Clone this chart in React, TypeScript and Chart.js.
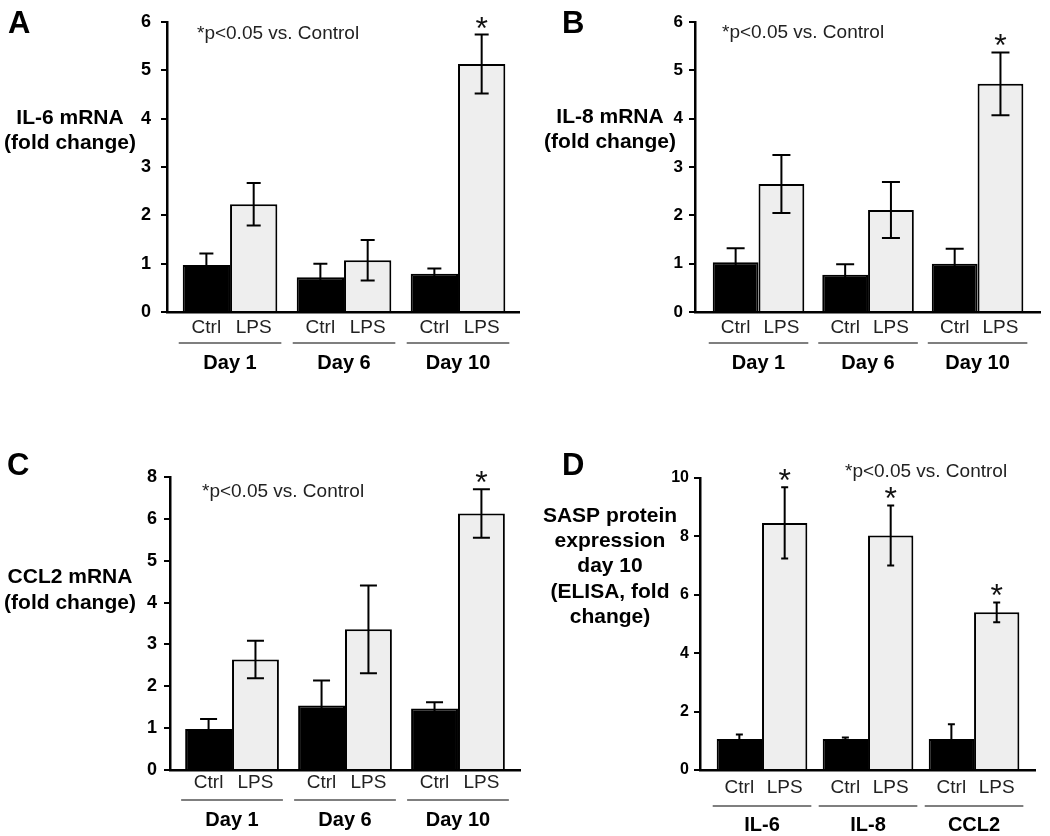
import React, { useEffect, useRef } from "react";
import { Chart, registerables } from "chart.js";

Chart.register(...registerables);

const FONT = "'Liberation Sans', Arial, Helvetica, sans-serif";

// ---------- data ----------
const dayGroups = ["Day 1", "Day 6", "Day 10"];
const cytokineGroups = ["IL-6", "IL-8", "CCL2"];
const barLabels = ["Ctrl", "LPS"];
const noteText = "*p<0.05 vs. Control";

// Panel A: IL-6 mRNA
const il6Ctrl = [0.97, 0.72, 0.79];
const il6CtrlErr = [0.24, 0.28, 0.11];
const il6Lps = [2.23, 1.07, 5.13];
const il6LpsErr = [0.44, 0.42, 0.61];
const il6Sig = [false, false, true];
const il6Ticks = ["0", "1", "2", "3", "4", "5", "6"];

// Panel B: IL-8 mRNA
const il8Ctrl = [1.03, 0.77, 1.0];
const il8CtrlErr = [0.29, 0.22, 0.31];
const il8Lps = [2.65, 2.11, 4.72];
const il8LpsErr = [0.6, 0.58, 0.65];
const il8Sig = [false, false, true];
const il8Ticks = ["0", "1", "2", "3", "4", "5", "6"];

// Panel C: CCL2 mRNA (top tick is printed "8" in the original)
const ccl2Ctrl = [0.98, 1.54, 1.47];
const ccl2CtrlErr = [0.24, 0.6, 0.15];
const ccl2Lps = [2.64, 3.36, 6.13];
const ccl2LpsErr = [0.45, 1.05, 0.58];
const ccl2Sig = [false, false, true];
const ccl2Ticks = ["0", "1", "2", "3", "4", "5", "6", "8"];

// Panel D: SASP protein (ELISA)
const saspCtrl = [1.06, 1.06, 1.06];
const saspCtrlErr = [0.16, 0.05, 0.51];
const saspLps = [8.46, 8.03, 5.4];
const saspLpsErr = [1.22, 1.03, 0.34];
const saspSig = [true, true, true];
const saspTicks = ["0", "2", "4", "6", "8", "10"];

// ---------- layout ----------
const YW = 40;
const XH = 10;

type PanelCfg = {
  letter: string;
  left: number; top: number; w: number; h: number;
  axisX: number; topY: number; bottomY: number; rightX: number;
  xMin: number; xMax: number; catPct: number; capW: number; tickPad: number; tickFont: number;
  yMax: number; yStep: number; tickLabels: string[];
  groups: string[];
  ctrl: number[]; ctrlErr: number[]; lps: number[]; lpsErr: number[]; sig: boolean[];
  title: string[]; titleX: number; titleY: number; titleLH: number;
  noteX: number; noteY: number; letterX: number; letterY: number;
  lblDy: number; lineDy: number; grpDy: number;
};

const panels: PanelCfg[] = [
  {
    letter: "A", left: 0, top: 0, w: 530, h: 420,
    axisX: 167, topY: 22, bottomY: 312, rightX: 519,
    xMin: -0.553, xMax: 2.535, catPct: 0.83, capW: 14, tickPad: 10, tickFont: 18,
    yMax: 6, yStep: 1, tickLabels: il6Ticks, groups: dayGroups,
    ctrl: il6Ctrl, ctrlErr: il6CtrlErr, lps: il6Lps, lpsErr: il6LpsErr, sig: il6Sig,
    title: ["IL-6 mRNA", "(fold change)"], titleX: 70, titleY: 118, titleLH: 25,
    noteX: 197, noteY: 34, letterX: 8, letterY: 33,
    lblDy: 16, lineDy: 31, grpDy: 51,
  },
  {
    letter: "B", left: 530, top: 0, w: 520, h: 420,
    axisX: 165, topY: 22, bottomY: 312, rightX: 510,
    xMin: -0.58, xMax: 2.57, catPct: 0.836, capW: 18, tickPad: 6, tickFont: 17,
    yMax: 6, yStep: 1, tickLabels: il8Ticks, groups: dayGroups,
    ctrl: il8Ctrl, ctrlErr: il8CtrlErr, lps: il8Lps, lpsErr: il8LpsErr, sig: il8Sig,
    title: ["IL-8 mRNA", "(fold change)"], titleX: 80, titleY: 117, titleLH: 25,
    noteX: 192, noteY: 33, letterX: 32, letterY: 33,
    lblDy: 16, lineDy: 31, grpDy: 51,
  },
  {
    letter: "C", left: 0, top: 420, w: 530, h: 416,
    axisX: 170, topY: 57, bottomY: 350, rightX: 520,
    xMin: -0.549, xMax: 2.549, catPct: 0.83, capW: 17, tickPad: 7, tickFont: 18,
    yMax: 7, yStep: 1, tickLabels: ccl2Ticks, groups: dayGroups,
    ctrl: ccl2Ctrl, ctrlErr: ccl2CtrlErr, lps: ccl2Lps, lpsErr: ccl2LpsErr, sig: ccl2Sig,
    title: ["CCL2 mRNA", "(fold change)"], titleX: 70, titleY: 157, titleLH: 26,
    noteX: 202, noteY: 72, letterX: 7, letterY: 55,
    lblDy: 13, lineDy: 30, grpDy: 50,
  },
  {
    letter: "D", left: 530, top: 420, w: 520, h: 416,
    axisX: 170, topY: 58, bottomY: 350, rightX: 505,
    xMin: -0.585, xMax: 2.575, catPct: 0.855, capW: 7, tickPad: 5, tickFont: 16,
    yMax: 10, yStep: 2, tickLabels: saspTicks, groups: cytokineGroups,
    ctrl: saspCtrl, ctrlErr: saspCtrlErr, lps: saspLps, lpsErr: saspLpsErr, sig: saspSig,
    title: ["SASP protein", "expression", "day 10", "(ELISA, fold", "change)"],
    titleX: 80, titleY: 96, titleLH: 25.3,
    noteX: 315, noteY: 52, letterX: 32, letterY: 55,
    lblDy: 18, lineDy: 36, grpDy: 55,
  },
];

const decorPlugin = {
  id: "decor",
  afterDraw(chart: any, _args: any, o: any) {
    const ctx: CanvasRenderingContext2D = chart.ctx;
    const ys = chart.scales.y;
    const xs = chart.scales.x;
    const p: PanelCfg = o.panel;
    const base = ys.getPixelForValue(0);
    ctx.save();

    // error bars + asterisks
    const errs = [p.ctrlErr, p.lpsErr];
    chart.data.datasets.forEach((ds: any, d: number) => {
      const meta = chart.getDatasetMeta(d);
      meta.data.forEach((bar: any, i: number) => {
        const v = ds.data[i].y;
        const e = errs[d][i];
        const yt = ys.getPixelForValue(v + e);
        const yb = ys.getPixelForValue(v - e);
        ctx.strokeStyle = "#000";
        ctx.lineWidth = 2;
        ctx.beginPath();
        ctx.moveTo(bar.x, yb);
        ctx.lineTo(bar.x, yt);
        ctx.moveTo(bar.x - p.capW / 2, yt);
        ctx.lineTo(bar.x + p.capW / 2, yt);
        ctx.moveTo(bar.x - p.capW / 2, yb);
        ctx.lineTo(bar.x + p.capW / 2, yb);
        ctx.stroke();
        if (d === 1 && p.sig[i]) {
          ctx.font = `32px ${FONT}`;
          ctx.fillStyle = "#111";
          ctx.textAlign = "center";
          ctx.textBaseline = "alphabetic";
          const m = ctx.measureText("*");
          const off = (m.actualBoundingBoxAscent - m.actualBoundingBoxDescent) / 2;
          const cy = yt - 12;
          ctx.fillText("*", bar.x, cy + off);
        }
      });
    });

    // x labels
    const m0 = chart.getDatasetMeta(0);
    const m1 = chart.getDatasetMeta(1);
    p.groups.forEach((g, i) => {
      const b0 = m0.data[i];
      const b1 = m1.data[i];
      ctx.fillStyle = "#222";
      ctx.font = `19px ${FONT}`;
      ctx.textAlign = "center";
      ctx.textBaseline = "middle";
      ctx.fillText(barLabels[0], b0.x, base + p.lblDy);
      ctx.fillText(barLabels[1], b1.x, base + p.lblDy);
      ctx.strokeStyle = "#555";
      ctx.lineWidth = 1.5;
      ctx.beginPath();
      ctx.moveTo(b0.x - b0.width / 2 - 4, base + p.lineDy);
      ctx.lineTo(b1.x + b1.width / 2 + 4, base + p.lineDy);
      ctx.stroke();
      ctx.fillStyle = "#000";
      ctx.font = `bold 20px ${FONT}`;
      ctx.fillText(g, xs.getPixelForValue(i), base + p.grpDy);
    });

    // y title
    ctx.fillStyle = "#000";
    ctx.font = `bold 21px ${FONT}`;
    ctx.textAlign = "center";
    ctx.textBaseline = "middle";
    p.title.forEach((t, k) => ctx.fillText(t, p.titleX, p.titleY + k * p.titleLH));

    // note
    ctx.fillStyle = "#222";
    ctx.font = `19px ${FONT}`;
    ctx.textAlign = "left";
    ctx.fillText(noteText, p.noteX, p.noteY);

    // panel letter
    ctx.fillStyle = "#000";
    ctx.font = `bold 31px ${FONT}`;
    ctx.textBaseline = "alphabetic";
    ctx.fillText(p.letter, p.letterX, p.letterY);

    ctx.restore();
  },
};

function Panel({ p }: { p: PanelCfg }) {
  const ref = useRef<HTMLCanvasElement | null>(null);
  useEffect(() => {
    if (!ref.current) return;
    const chart = new Chart(ref.current, {
      type: "bar",
      data: {
        datasets: [
          {
            label: barLabels[0],
            data: p.ctrl.map((v, i) => ({ x: i, y: v })),
            backgroundColor: "#000",
            borderColor: "#000",
            borderWidth: 2,
            barPercentage: 1,
            categoryPercentage: p.catPct,
          },
          {
            label: barLabels[1],
            data: p.lps.map((v, i) => ({ x: i, y: v })),
            backgroundColor: "#eeeeee",
            borderColor: "#000",
            borderWidth: 2,
            barPercentage: 1,
            categoryPercentage: p.catPct,
          },
        ],
      } as any,
      options: {
        responsive: false,
        animation: false,
        devicePixelRatio: 1,
        layout: {
          padding: {
            left: p.axisX - YW,
            top: p.topY,
            right: p.w - p.rightX,
            bottom: p.h - p.bottomY - XH,
          },
        },
        plugins: {
          legend: { display: false },
          tooltip: { enabled: false },
          decor: { panel: p },
        } as any,
        scales: {
          x: {
            type: "linear",
            offset: false,
            min: p.xMin,
            max: p.xMax,
            grid: { display: false, offset: false },
            border: { display: true, color: "#000", width: 2.5 },
            ticks: { display: false },
            afterBuildTicks: (s: any) => {
              s.ticks = p.groups.map((_, i) => ({ value: i }));
            },
            afterFit: (s: any) => {
              s.height = XH;
            },
          },
          y: {
            min: 0,
            max: p.yMax,
            ticks: {
              stepSize: p.yStep,
              color: "#000",
              font: { family: FONT, size: p.tickFont, weight: "bold" },
              padding: p.tickPad,
              callback: (_v: any, i: number) => p.tickLabels[i],
            },
            grid: {
              display: true,
              drawOnChartArea: false,
              drawTicks: true,
              tickLength: 6,
              color: "#000",
              lineWidth: 2,
            },
            border: { display: true, color: "#000", width: 2.5 },
            afterFit: (s: any) => {
              s.width = YW;
            },
          },
        },
      } as any,
      plugins: [decorPlugin as any],
    });
    return () => chart.destroy();
  }, [p]);
  return (
    <canvas
      ref={ref}
      width={p.w}
      height={p.h}
      style={{ position: "absolute", left: p.left, top: p.top, width: p.w, height: p.h }}
    />
  );
}

export default function App() {
  return (
    <div
      style={{
        position: "absolute",
        left: 0,
        top: 0,
        width: 1050,
        height: 836,
        background: "#fff",
        overflow: "hidden",
      }}
    >
      {panels.map((p) => (
        <Panel key={p.letter} p={p} />
      ))}
    </div>
  );
}
